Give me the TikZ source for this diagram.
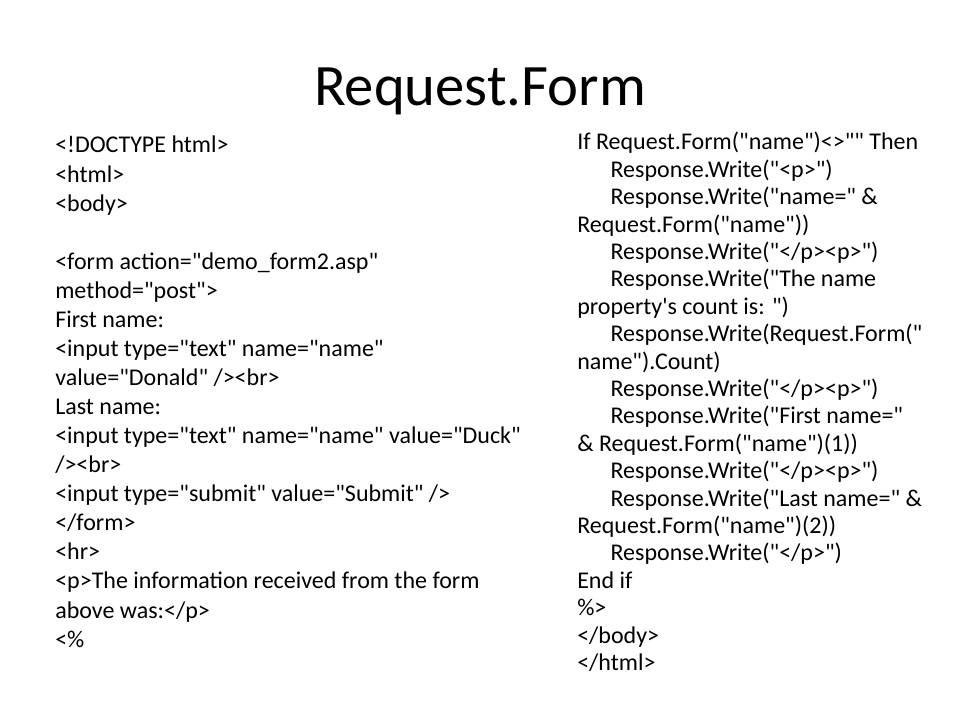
\documentclass[tikz,border=0pt]{standalone}
\usepackage{fontspec}
\newfontfamily\slidefont{Carlito}
\newcommand{\codefont}{\slidefont\fontsize{18}{21.8}\selectfont\lineskiplimit=-20pt\relax}
\newcommand{\aspfont}{\slidefont\fontsize{18}{20.55}\selectfont\lineskiplimit=-20pt\relax}

\begin{document}
\begin{tikzpicture}[x=0.75pt,y=-0.75pt,
    every node/.style={inner sep=0pt, font=\codefont},
    codecol/.style={anchor=north west, align=left}]
    \useasboundingbox (0,0) rectangle (960,720);
    \node[anchor=base, font=\slidefont\fontsize{44}{52}\selectfont] (title) at (480,106) {Request.Form};

    \node[codecol] (html) at (55,136) {<!DOCTYPE html>\\
<html>\\
<body>\\
\mbox{}\\
<form action="demo\_form2.asp"\\
method="post">\\
First name:\\
<input type="text" name="name"\\
value="Donald" /><br>\\
Last name:\\
<input type="text" name="name" value="Duck"\\
/><br>\\
<input type="submit" value="Submit" />\\
</form>\\
<hr>\\
<p>The information received from the form\\
above was:</p>\\
<\%};

    \node[codecol, font=\aspfont] (asp) at (577,132) {If Request.Form("name")<>"" Then\\
\hspace*{25pt}Response.Write("<p>")\\
\hspace*{25pt}Response.Write("name=" \&\\
Request.Form("name"))\\
\hspace*{25pt}Response.Write("</p><p>")\\
\hspace*{25pt}Response.Write("The name\\
property's count is: ")\\
\hspace*{25pt}Response.Write(Request.Form("\\
name").Count)\\
\hspace*{25pt}Response.Write("</p><p>")\\
\hspace*{25pt}Response.Write("First name="\\
\& Request.Form("name")(1))\\
\hspace*{25pt}Response.Write("</p><p>")\\
\hspace*{25pt}Response.Write("Last name=" \&\\
Request.Form("name")(2))\\
\hspace*{25pt}Response.Write("</p>")\\
End if\\
\%>\\
</body>\\
</html>};
\end{tikzpicture}
\end{document}
